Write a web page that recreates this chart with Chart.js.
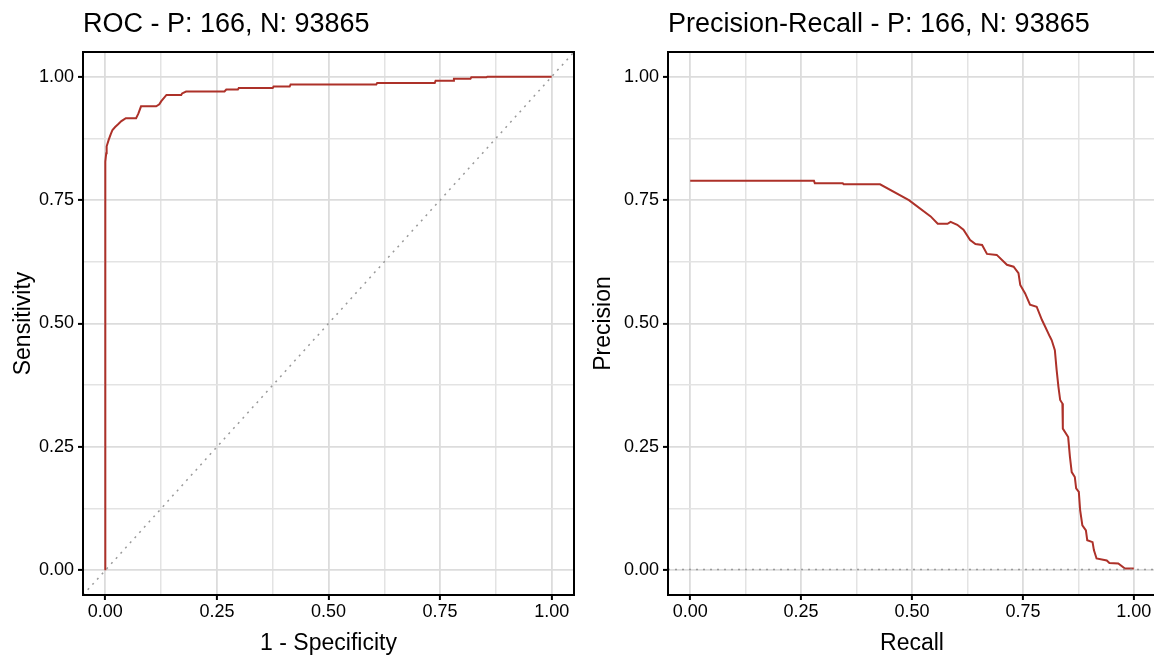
<!DOCTYPE html>
<html>
<head>
<meta charset="utf-8">
<script src="https://cdn.jsdelivr.net/npm/chart.js@4"></script>
<style>
  html, body { margin: 0; padding: 0; background: #fff; overflow: hidden; }
  #wrap1 { position: absolute; left: 0; top: 0; width: 578px; height: 657px; }
  #wrap2 { position: absolute; left: 580px; top: 0; width: 577px; height: 657px; }
</style>
</head>
<body>
<div id="wrap1"><canvas id="roc" width="578" height="657"></canvas></div>
<div id="wrap2"><canvas id="pr" width="577" height="657"></canvas></div>
<script>
// ROC curve (1 - specificity, sensitivity)
const rocFpr = [0, 0, 0.002, 0.003, 0.0075, 0.012, 0.016, 0.022, 0.028, 0.036, 0.046, 0.069, 0.074, 0.080,
  0.114, 0.121, 0.125, 0.137, 0.170, 0.172, 0.181, 0.267, 0.271, 0.297, 0.299, 0.375, 0.377, 0.413,
  0.415, 0.607, 0.609, 0.738, 0.740, 0.779, 0.781, 0.818, 0.820, 0.854, 0.856, 1.0];
const rocTpr = [0, 0.828, 0.845, 0.859, 0.872, 0.883, 0.892, 0.898, 0.903, 0.910, 0.916, 0.916, 0.925, 0.940,
  0.940, 0.944, 0.950, 0.963, 0.963, 0.966, 0.970, 0.970, 0.974, 0.974, 0.977, 0.977, 0.980, 0.980,
  0.984, 0.984, 0.987, 0.987, 0.992, 0.992, 0.996, 0.996, 0.999, 0.999, 1.0, 1.0];

// Precision-recall curve
const prRecall = [0, 0.279, 0.281, 0.344, 0.346, 0.428, 0.493, 0.542, 0.558, 0.580, 0.587, 0.602, 0.616,
  0.631, 0.643, 0.658, 0.669, 0.691, 0.714, 0.729, 0.740, 0.744, 0.755, 0.766, 0.781, 0.793, 0.800,
  0.811, 0.815, 0.822, 0.826, 0.830, 0.834, 0.839, 0.840, 0.852, 0.856, 0.860, 0.867, 0.870, 0.876,
  0.879, 0.884, 0.892, 0.895, 0.907, 0.910, 0.916, 0.939, 0.945, 0.965, 0.980, 1.0];
const prPrecision = [0.789, 0.789, 0.784, 0.784, 0.782, 0.782, 0.750, 0.717, 0.702, 0.702, 0.706, 0.700, 0.690,
  0.669, 0.661, 0.659, 0.641, 0.639, 0.619, 0.615, 0.602, 0.578, 0.561, 0.538, 0.534, 0.507, 0.494,
  0.473, 0.466, 0.446, 0.406, 0.372, 0.345, 0.338, 0.287, 0.270, 0.230, 0.199, 0.189, 0.166, 0.159,
  0.122, 0.091, 0.081, 0.061, 0.057, 0.041, 0.024, 0.020, 0.015, 0.014, 0.0035, 0.0035];

const positives = 166;
const negatives = 93865;
const baseRate = positives / (positives + negatives);
const refX = [-0.05, 1.05];

const majorTicks = [0, 0.25, 0.5, 0.75, 1];
const minorTicks = [0.125, 0.375, 0.625, 0.875];

const curveColor = "#ad3129";

function hasFont(name) {
  const c = document.createElement("canvas").getContext("2d");
  const s = "0.00 1 - Specificity";
  c.font = "40px monospace";
  const a = c.measureText(s).width;
  c.font = `40px "${name}", monospace`;
  return c.measureText(s).width !== a;
}
const narrow = hasFont("Liberation Sans Narrow");
const tickFont = narrow ? { family: "'Liberation Sans Narrow'", size: 20 } : { family: "'Liberation Sans'", size: 18 };
const axisFont = narrow ? { family: "'Liberation Sans Narrow'", size: 26 } : { family: "'Liberation Sans'", size: 23 };

const isMajor = (v) => majorTicks.some((m) => Math.abs(m - v) < 1e-9);

function axis(title, isX, size) {
  return {
    type: "linear",
    min: -0.05,
    max: 1.05,
    afterBuildTicks: (scale) => {
      scale.ticks = majorTicks.concat(minorTicks).sort((a, b) => a - b).map((v) => ({ value: v }));
    },
    afterFit: (scale) => {
      if (isX) scale.height = size; else scale.width = size;
    },
    border: { display: false },
    grid: {
      color: (c) => (c.tick && isMajor(c.tick.value) ? "#dcdcdc" : "#e3e3e3"),
      lineWidth: (c) => (c.tick && isMajor(c.tick.value) ? 1.8 : 1.5),
      tickColor: (c) => (c.tick && isMajor(c.tick.value) ? "#000" : "rgba(0,0,0,0)"),
      tickLength: 5,
      tickWidth: 2,
    },
    ticks: {
      autoSkip: false,
      maxRotation: 0,
      color: "#000",
      font: tickFont,
      padding: isX ? 1 : 4,
      callback: (v) => (isMajor(v) ? v.toFixed(2) : ""),
    },
    title: {
      display: true,
      text: title,
      color: "#000",
      font: { ...axisFont, lineHeight: 1 },
      padding: isX ? { top: 0, bottom: 2 } : { top: 12, bottom: 0 },
    },
  };
}

const panelBox = {
  id: "panelBox",
  afterDraw(chart) {
    const { ctx, chartArea: a } = chart;
    ctx.save();
    ctx.strokeStyle = "#000";
    ctx.lineWidth = 2;
    ctx.strokeRect(a.left, a.top, a.right - a.left, a.bottom - a.top);
    ctx.restore();
  },
};

function panel(id, title, xTitle, yTitle, datasets, yWidth, padRight) {
  new Chart(document.getElementById(id), {
    type: "scatter",
    data: { datasets },
    options: {
      responsive: false,
      animation: false,
      layout: { padding: { left: 0, right: padRight, top: 0, bottom: 0 } },
      plugins: {
        legend: { display: false },
        tooltip: { enabled: false },
        title: {
          display: true,
          text: title,
          align: "start",
          fullSize: false,
          color: "#000",
          font: { family: "'Liberation Sans'", size: 27, weight: "normal" },
          padding: { top: 8, bottom: 11.6 },
        },
      },
      scales: {
        x: axis(xTitle, true, 62),
        y: axis(yTitle, false, yWidth),
      },
    },
    plugins: [panelBox],
  });
}

panel("roc", "ROC - P: 166, N: 93865", "1 - Specificity", "Sensitivity", [
  {
    data: refX.map((x) => ({ x, y: x })),
    showLine: true,
    borderColor: "#9a9a9a",
    borderWidth: 1.5,
    borderDash: [2, 5],
    pointRadius: 0,
  },
  {
    data: rocFpr.map((x, i) => ({ x, y: rocTpr[i] })),
    showLine: true,
    borderColor: curveColor,
    borderWidth: 2,
    pointRadius: 0,
  },
], 83, 4);

panel("pr", "Precision-Recall - P: 166, N: 93865", "Recall", "Precision", [
  {
    data: refX.map((x) => ({ x, y: baseRate })),
    showLine: true,
    borderColor: "#9a9a9a",
    borderWidth: 1.5,
    borderDash: [2, 5],
    pointRadius: 0,
  },
  {
    data: prRecall.map((x, i) => ({ x, y: prPrecision[i] })),
    showLine: true,
    borderColor: curveColor,
    borderWidth: 2,
    pointRadius: 0,
  },
], 88, 1);
</script>
</body>
</html>
